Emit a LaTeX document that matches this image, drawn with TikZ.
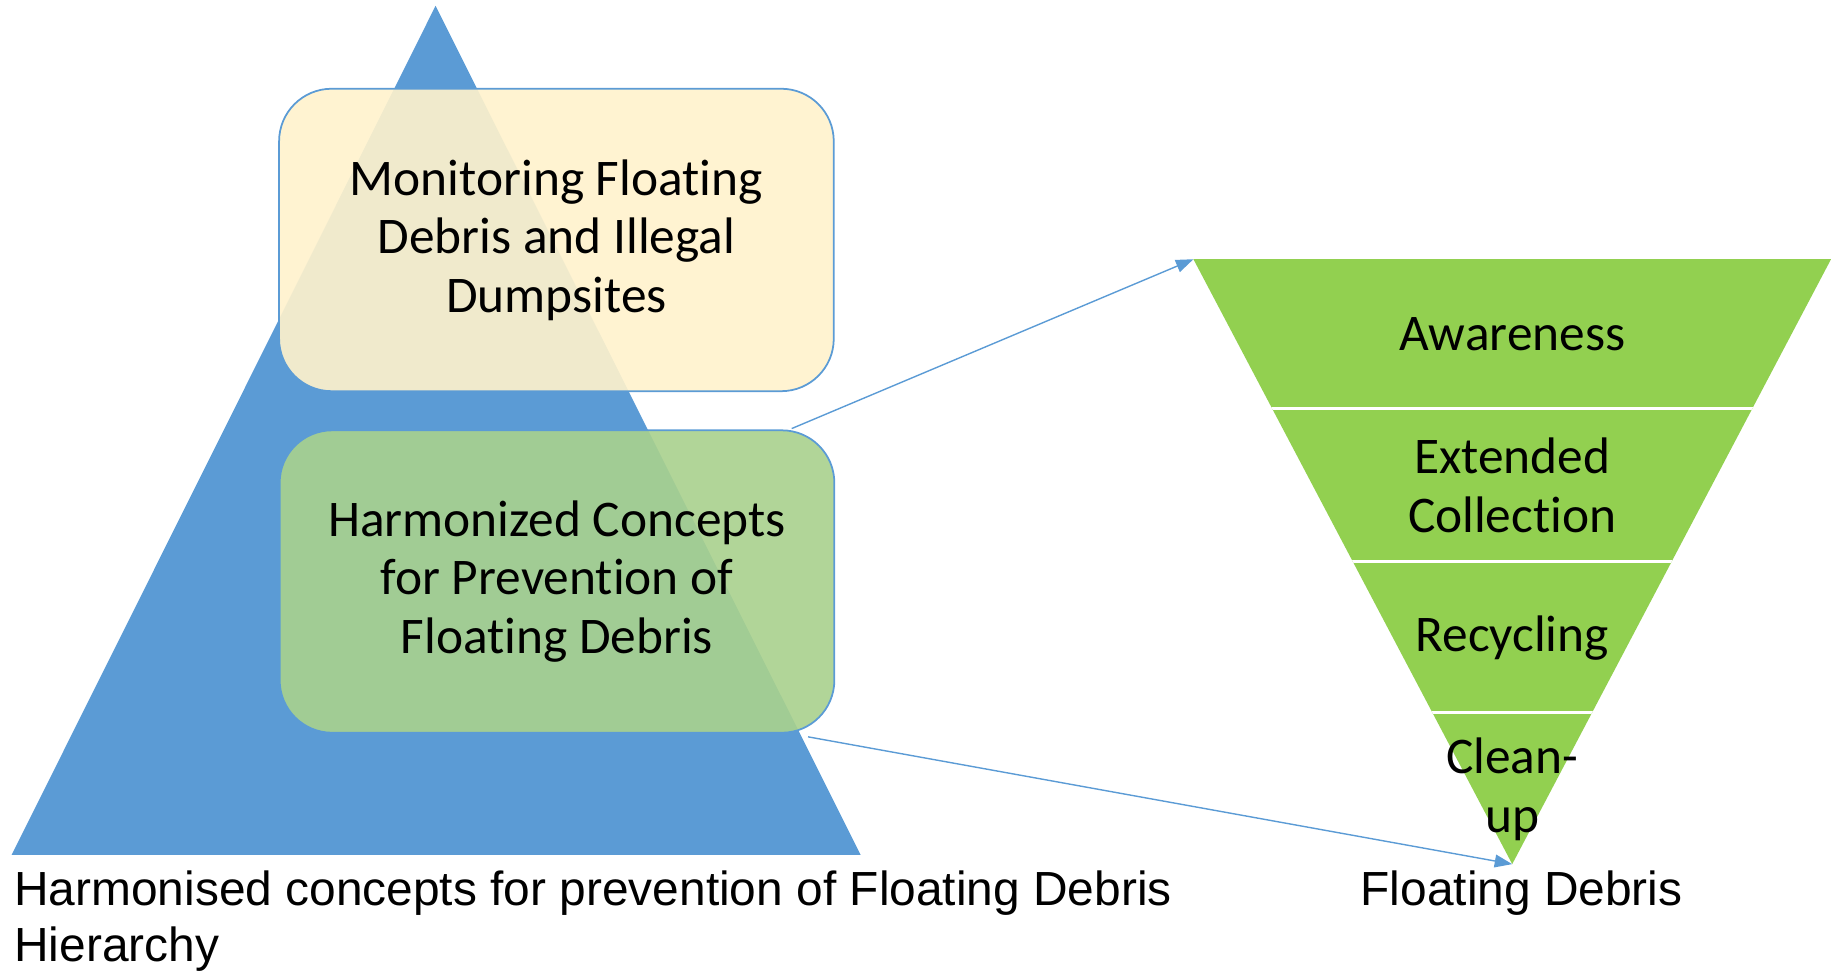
\documentclass[tikz,border=0pt]{standalone}
\usepackage{fontspec}
\setmainfont{Carlito}[Ligatures=NoCommon]
\newfontfamily\arialfont{Liberation Sans}
\usetikzlibrary{arrows.meta}
\definecolor{triblue}{HTML}{5B9BD5}
\definecolor{boxyellow}{HTML}{FFF2CC}
\definecolor{boxgreen}{HTML}{A9D18E}
\definecolor{invgreen}{HTML}{92D050}
\begin{document}
\begin{tikzpicture}[x=1pt,y=-1pt,
  box/.style={draw=triblue, line width=1.5pt, rounded corners=45pt, minimum width=475pt, minimum height=259pt, align=center, font=\fontsize{44}{50}\selectfont, inner sep=0pt, fill opacity=0.91, text opacity=1},
  level/.style={align=center, font=\fontsize{44}{50}\selectfont, inner sep=0pt},
  caption/.style={font=\arialfont\fontsize{41}{48}\selectfont, inner sep=0pt},
  link/.style={draw=triblue, line width=1.2pt, -{Triangle[length=15pt,width=11pt]}},
  sep/.style={draw=white, line width=3pt}]
\useasboundingbox (0,0) rectangle (1568,832);
% blue pyramid
\coordinate (apex) at (373,5);
\coordinate (bl) at (10,732);
\coordinate (br) at (737,732);
\fill[triblue] (apex) -- (bl) -- (br) -- cycle;
% boxes
\node[box, fill=boxyellow] (mon) at (476.5,205.5) {Monitoring Floating\\Debris and Illegal\\Dumpsites};
\node[box, fill=boxgreen] (harm) at (477,498) {Harmonized Concepts\\for Prevention of\\Floating Debris};
% inverted triangle
\coordinate (itl) at (1022,222);
\coordinate (itr) at (1568,222);
\coordinate (iap) at (1295,740);
\fill[invgreen] (itl) -- (itr) -- (iap) -- cycle;
\begin{scope}
  \clip (itl) -- (itr) -- (iap) -- cycle;
  \draw[sep] (1000,350) -- (1600,350);
  \draw[sep] (1000,481) -- (1600,481);
  \draw[sep] (1000,610) -- (1600,610);
\end{scope}
\node[level] (aw) at (1295,286) {Awareness};
\node[level] (ext) at (1295,415.5) {Extended\\Collection};
\node[level] (rec) at (1295,546.5) {Recycling};
\node[level] (cl) at (1295,676) {Clean-\\up};
% captions
\node[caption, anchor=base west] (cap1) at (12,775) {Harmonised concepts for prevention of Floating Debris};
\node[caption, anchor=base west] (cap2) at (12,823) {Hierarchy};
\node[caption, anchor=base] (cap3) at (1303,775) {Floating Debris};
% connectors
\coordinate (a1s) at (678,367);
\coordinate (a2s) at (692,631);
\draw[link] (a1s) -- (itl);
\draw[link] (a2s) -- (iap);
\end{tikzpicture}
\end{document}
